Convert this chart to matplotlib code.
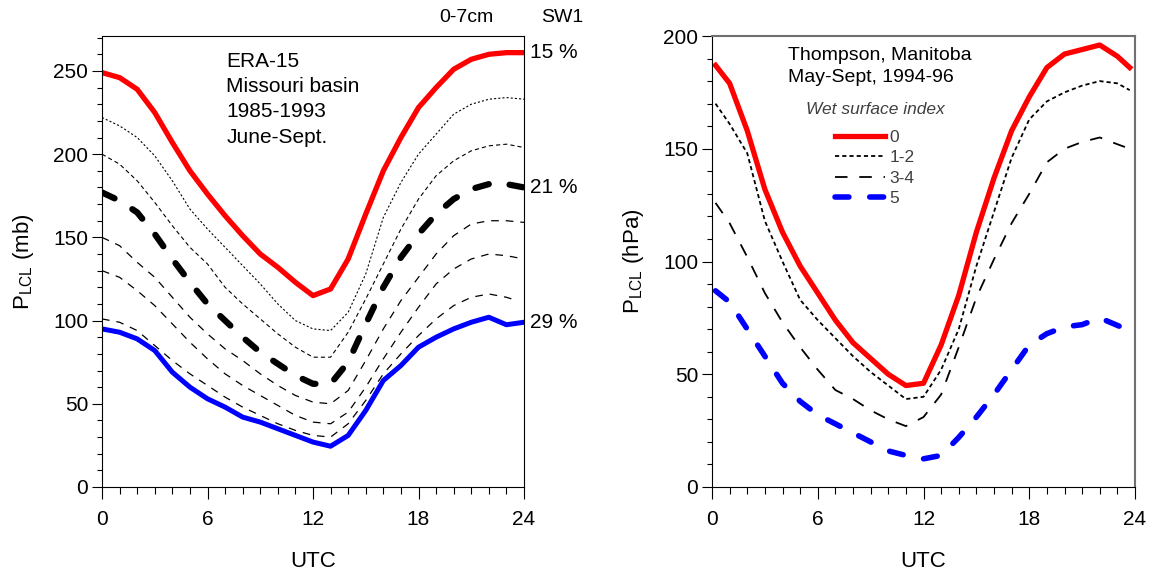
import matplotlib
matplotlib.use("Agg")
import matplotlib.pyplot as plt
from matplotlib.ticker import MultipleLocator
import numpy as np

plt.rcParams['font.family'] = ['Liberation Sans', 'DejaVu Sans']
plt.rcParams['mathtext.fontset'] = 'custom'
plt.rcParams['mathtext.rm'] = 'Liberation Sans'
plt.rcParams['mathtext.it'] = 'Liberation Sans:italic'
plt.rcParams['lines.scale_dashes'] = False

# ERA-15, Missouri basin: P_LCL (mb) by hour for soil water (0-7cm SW1) classes
hours = list(range(25))
sw15 = [249, 246, 239, 225, 207, 190, 176, 163, 151, 140, 132, 123, 115, 119, 137, 164, 190, 210, 228, 240, 251, 257, 260, 261, 261]
sw17 = [222, 217, 210, 199, 184, 167, 155, 144, 133, 122, 110, 100, 95, 94, 105, 128, 162, 183, 200, 212, 224, 230, 233, 234, 233]
sw19 = [200, 194, 184, 171, 157, 144, 134, 120, 110, 101, 92, 84, 78, 78, 93, 113, 134, 155, 173, 187, 196, 202, 205, 206, 204]
sw21 = [177, 172, 165, 152, 137, 123, 110, 100, 90, 81, 74, 67, 62, 62, 75, 98, 120, 138, 152, 164, 173, 179, 182, 182, 180]
sw23 = [150, 145, 135, 126, 114, 102, 92, 83, 76, 68, 61, 55, 51, 50, 58, 76, 95, 112, 126, 140, 151, 158, 160, 160, 159]
sw25 = [130, 126, 118, 109, 98, 87, 77, 68, 61, 55, 49, 43, 39, 38, 45, 60, 77, 93, 108, 122, 131, 137, 140, 139, 137]
hours27 = list(range(24)) + [23.6]
sw27 = [101, 99, 94, 85, 76, 68, 61, 54, 48, 43, 38, 34, 31, 30, 38, 52, 68, 80, 91, 101, 109, 114, 116, 114, 112]
sw29 = [95, 93, 89, 82, 69, 60, 53, 48, 42, 39, 35, 31, 27, 24.5, 31, 46, 64, 73, 84, 90, 95, 99, 102, 97.5, 99]

# Thompson, Manitoba: P_LCL (hPa) by wet surface index
hours_t = [0.2] + list(range(1, 24)) + [23.7]
wet0 = [187, 179, 158, 132, 113, 98, 86, 74, 64, 57, 50, 45, 46, 63, 85, 113, 137, 158, 173, 186, 192, 194, 196, 191, 186]
wet12 = [170, 161, 148, 118, 100, 83, 74, 66, 58, 51, 45, 39, 40, 52, 70, 98, 122, 146, 163, 171, 175, 178, 180, 179, 176]
wet34 = [126, 117, 102, 86, 73, 62, 52, 43, 39, 34, 30, 27, 31, 41, 62, 84, 101, 117, 130, 144, 150, 153, 155, 152, 150]
hours_5 = [0.2] + list(range(1, 23)) + [23.2]
wet5 = [87, 82, 70, 58, 46, 38, 32, 28, 24, 20, 16, 14, 12.5, 14, 22, 31, 41, 52, 63, 68, 71, 72, 75, 71]

fig = plt.figure(figsize=(11.51, 5.73), dpi=100)
ax1 = fig.add_axes([102 / 1151, 86 / 573, 422 / 1151, 451 / 573])
ax2 = fig.add_axes([712 / 1151, 86 / 573, 423 / 1151, 451 / 573])

# left panel
ax1.plot(hours, sw15, color='red', lw=3.8)
ax1.plot(hours, sw17, color='black', lw=0.8, dashes=(1.5, 1.5))
ax1.plot(hours, sw19, color='black', lw=0.8, dashes=(3, 2.2))
ax1.plot(hours, sw21, color='black', lw=4.5, dashes=(10, 15), dash_capstyle='round')
ax1.plot(hours, sw23, color='black', lw=0.9, dashes=(5.5, 5))
ax1.plot(hours, sw25, color='black', lw=0.9, dashes=(5.5, 5))
ax1.plot(hours27, sw27, color='black', lw=0.9, dashes=(5.5, 5))
ax1.plot(hours, sw29, color='blue', lw=3.6)

ax1.set_xlim(0, 24)
ax1.set_ylim(0, 271)
ax1.set_ylabel('P$_{\\rm LCL}$ (mb)', fontsize=16, labelpad=12)
ax1.text(0.295, 0.965, 'ERA-15\nMissouri basin\n1985-1993\nJune-Sept.', transform=ax1.transAxes,
         fontsize=15, va='top', ha='left', linespacing=1.42)
ax1.text(1.015, sw15[-1], '15 %', transform=ax1.get_yaxis_transform(), fontsize=15, va='center')
ax1.text(1.015, sw21[-1], '21 %', transform=ax1.get_yaxis_transform(), fontsize=15, va='center')
ax1.text(1.015, sw29[-1], '29 %', transform=ax1.get_yaxis_transform(), fontsize=15, va='center')
ax1.text(0.8, 1.04, '0-7cm', transform=ax1.transAxes, fontsize=14, va='center')
ax1.text(1.04, 1.04, 'SW1', transform=ax1.transAxes, fontsize=14, va='center')

# right panel
ax2.plot(hours_t, wet0, color='red', lw=3.8, label='0')
ax2.plot(hours_t, wet12, color='black', lw=1.3, dashes=(3, 2.2), label='1-2')
ax2.plot(hours_t, wet34, color='black', lw=1.3, dashes=(9, 8.5), label='3-4')
ax2.plot(hours_5, wet5, color='blue', lw=4, dashes=(10, 15), dash_capstyle='round', label='5')

ax2.set_xlim(0, 24)
ax2.set_ylim(0, 200)
ax2.set_ylabel('P$_{\\rm LCL}$ (hPa)', fontsize=16, labelpad=12)
ax2.text(0.18, 0.975, 'Thompson, Manitoba\nMay-Sept, 1994-96', transform=ax2.transAxes,
         fontsize=14, va='top', ha='left', linespacing=1.35)
ax2.text(0.387, 0.836, 'Wet surface index', transform=ax2.transAxes, fontsize=12.5,
         style='italic', color='#404040', ha='center', va='center')
leg = ax2.legend(loc='upper left', bbox_to_anchor=(0.29, 0.792), frameon=False,
                 fontsize=12.5, handlelength=2.9, handletextpad=0.25, labelspacing=0.3,
                 borderpad=0, borderaxespad=0)
for t in leg.get_texts():
    t.set_color('#404040')
for sp in ('top', 'right'):
    ax2.spines[sp].set_color('#707070')
    ax2.spines[sp].set_linewidth(1.5)

for ax in (ax1, ax2):
    ax.xaxis.set_major_locator(MultipleLocator(6))
    ax.xaxis.set_minor_locator(MultipleLocator(1))
    ax.yaxis.set_major_locator(MultipleLocator(50))
    ax.yaxis.set_minor_locator(MultipleLocator(10))
    ax.tick_params(axis='x', which='major', length=8.5, width=0.8, labelsize=15, pad=8)
    ax.tick_params(axis='x', which='minor', length=5, width=0.8)
    ax.tick_params(axis='y', which='major', length=7, width=0.8, labelsize=15, pad=3)
    ax.tick_params(axis='y', which='minor', length=3.5, width=0.8)
    ax.set_xlabel('UTC', fontsize=16, labelpad=16)

fig.savefig('out.png', dpi=100)
